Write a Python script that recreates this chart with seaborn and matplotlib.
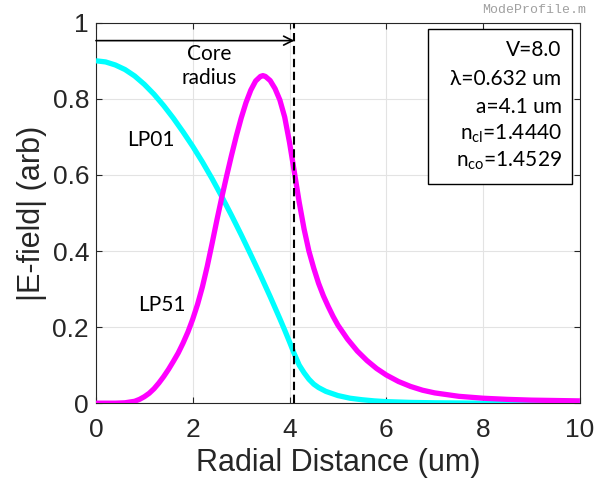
import numpy as np
import pandas as pd
import matplotlib
matplotlib.use("Agg")
import matplotlib.pyplot as plt
import seaborn as sns
from matplotlib.patches import Rectangle

# ---- data ----
r_lp01 = [0.0, 0.2, 0.4, 0.6, 0.8, 1.0, 1.2, 1.4, 1.6, 1.8, 2.0, 2.2, 2.4, 2.6,
          2.8, 3.0, 3.2, 3.4, 3.6, 3.8, 3.9, 4.0, 4.1, 4.2, 4.3, 4.4, 4.5, 4.6,
          4.75, 5.0, 5.25, 5.5, 5.75, 6.0, 6.5, 7.0, 8.0, 9.0, 10.0]
e_lp01 = [0.900, 0.897, 0.889, 0.877, 0.860, 0.838, 0.812, 0.782, 0.749, 0.713,
          0.675, 0.634, 0.590, 0.543, 0.494, 0.443, 0.390, 0.336, 0.280, 0.222,
          0.192, 0.161, 0.129, 0.100, 0.080, 0.063, 0.050, 0.041, 0.031, 0.020,
          0.013, 0.009, 0.006, 0.004, 0.002, 0.001, 0.0, 0.0, 0.0]

r_lp51 = [0.0, 0.4, 0.6, 0.8, 0.9, 1.0, 1.1, 1.2, 1.3, 1.4, 1.5, 1.6, 1.7, 1.8,
          1.9, 2.0, 2.1, 2.2, 2.3, 2.4, 2.5, 2.6, 2.7, 2.8, 2.9, 3.0, 3.1, 3.2,
          3.3, 3.4, 3.45, 3.5, 3.6, 3.7, 3.8, 3.9, 4.0, 4.1, 4.2, 4.3, 4.4, 4.5,
          4.6, 4.7, 4.8, 4.9, 5.0, 5.2, 5.4, 5.6, 5.8, 6.0, 6.25, 6.5, 6.75, 7.0,
          7.5, 8.0, 8.5, 9.0, 9.5, 10.0]
e_lp51 = [0.000, 0.000, 0.001, 0.005, 0.010, 0.017, 0.026, 0.038, 0.053, 0.070,
          0.089, 0.110, 0.132, 0.158, 0.187, 0.221, 0.260, 0.306, 0.360, 0.420,
          0.482, 0.541, 0.597, 0.651, 0.702, 0.749, 0.790, 0.823, 0.847, 0.859,
          0.861, 0.859, 0.848, 0.827, 0.797, 0.752, 0.685, 0.607, 0.528, 0.458,
          0.400, 0.355, 0.315, 0.282, 0.254, 0.228, 0.205, 0.168, 0.137, 0.112,
          0.091, 0.074, 0.057, 0.044, 0.034, 0.027, 0.018, 0.013, 0.010, 0.008,
          0.007, 0.006]

core_radius = 4.1
x_ticks = [0, 2, 4, 6, 8, 10]
y_ticks = [0, 0.2, 0.4, 0.6, 0.8, 1.0]
y_ticklabels = ["0", "0.2", "0.4", "0.6", "0.8", "1"]
info_lines = ["V=8.0", "λ=0.632 um", "a=4.1 um",
              "n$_{\\mathrm{cl}}$=1.4440", "n$_{\\mathrm{co}}$=1.4529"]

df = pd.concat([
    pd.DataFrame({"r": r_lp01, "E": e_lp01, "mode": "LP01"}),
    pd.DataFrame({"r": r_lp51, "E": e_lp51, "mode": "LP51"}),
])

sns.set_theme(style="whitegrid")
plt.rcParams["font.family"] = ["Liberation Sans", "DejaVu Sans"]
plt.rcParams["mathtext.fontset"] = "custom"
plt.rcParams["mathtext.rm"] = "Lato"
plt.rcParams["mathtext.it"] = "Lato:italic"

fig = plt.figure(figsize=(5.96, 4.84), dpi=100)
ax = fig.add_axes([0.161, 0.167, 0.812, 0.786])
ax.set_facecolor("white")

sns.lineplot(data=df, x="r", y="E", hue="mode",
             palette={"LP01": "#00FFFF", "LP51": "#FF00FF"},
             linewidth=3.8, ax=ax, legend=False, sort=False, zorder=3)
for ln in ax.lines:
    ln.set_solid_joinstyle("round")
    ln.set_solid_capstyle("butt")

ax.axvline(core_radius, color="black", lw=1.5, linestyle=(0, (4, 2.2)), zorder=4)
ax.annotate("", xy=(core_radius, 0.953), xytext=(0, 0.953),
            arrowprops=dict(arrowstyle="->", color="black", lw=1.2,
                            mutation_scale=16, shrinkA=0, shrinkB=0), zorder=5)

cal = ["Lato", "DejaVu Sans"]
ax.text(2.35, 0.885, "Core\nradius", ha="center", va="center", fontsize=15,
        family=cal, linespacing=1.25, color="black")
ax.text(1.14, 0.693, "LP01", ha="center", va="center", fontsize=15, family=cal,
        color="black")
ax.text(1.36, 0.259, "LP51", ha="center", va="center", fontsize=15, family=cal,
        color="black")

# info box
ax.add_patch(Rectangle((0.687, 0.576), 0.297, 0.408, transform=ax.transAxes,
                       facecolor="white", edgecolor="black", lw=1.0, zorder=6))
baselines = [0.913, 0.837, 0.763, 0.692, 0.621]
for txt, yb in zip(info_lines, baselines):
    ax.text(0.962, yb, txt, transform=ax.transAxes, ha="right", va="baseline",
            fontsize=15, family=cal, color="black", zorder=7)

ax.set_xlim(0, 10)
ax.set_ylim(0, 1)
ax.set_xticks(x_ticks)
ax.set_yticks(y_ticks)
ax.set_yticklabels(y_ticklabels)
ax.grid(True, color="#e3e3e3", lw=0.8)
ax.tick_params(axis="both", direction="in", length=4, width=0.8,
               colors="#262626", labelsize=19, top=True, right=True,
               bottom=True, left=True)
ax.tick_params(axis="x", pad=11)
ax.tick_params(axis="y", pad=5)
for s in ax.spines.values():
    s.set_color("#262626")
    s.set_linewidth(0.8)
    s.set_visible(True)

ax.set_xlabel("Radial Distance (um)", fontsize=22, color="#262626", labelpad=4)
ax.set_ylabel("|E-field| (arb)", fontsize=22, color="#262626", labelpad=4)

fig.text(0.983, 0.979, "ModeProfile.m", ha="right", va="center",
         fontsize=9.5, family="Liberation Mono", color="#a0a0a0")

fig.savefig("out.png", dpi=100)
